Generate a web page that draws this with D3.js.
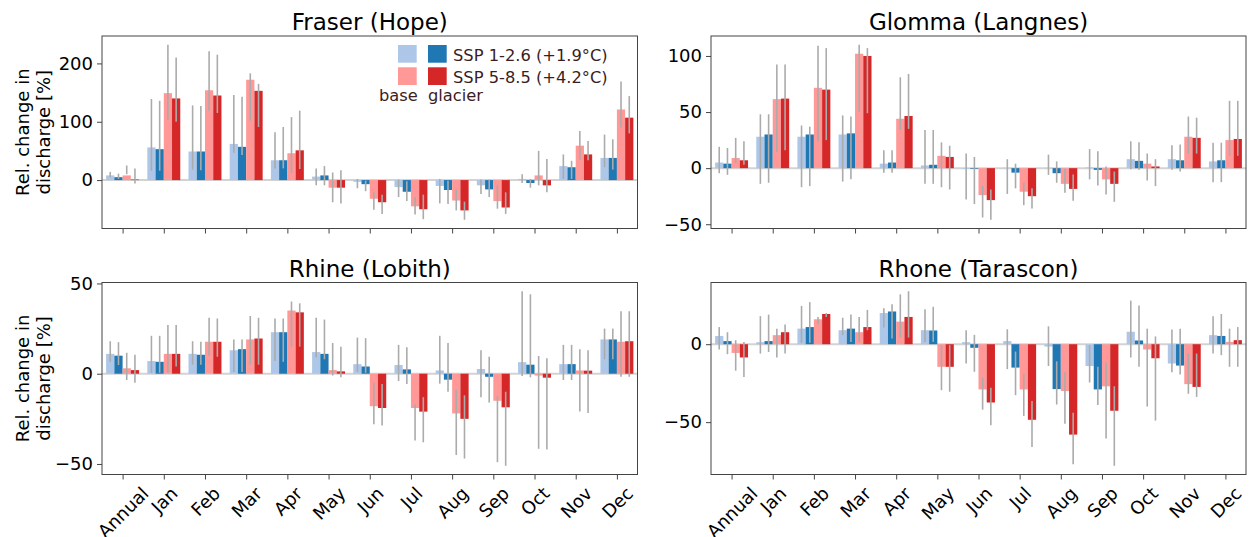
<!DOCTYPE html>
<html>
<head>
<meta charset="utf-8">
<script src="https://cdn.jsdelivr.net/npm/d3@7"></script>
<style>
  body { margin: 0; background: #fff; }
  text { font-family: "DejaVu Sans", sans-serif; }
</style>
</head>
<body>
<div id="chart"></div>
<script>
// categories and legend entries
var months = ["Annual", "Jan", "Feb", "Mar", "Apr", "May", "Jun", "Jul", "Aug", "Sep", "Oct", "Nov", "Dec"];
var scenarios = ["SSP 1-2.6 (+1.9°C)", "SSP 5-8.5 (+4.2°C)"];
var kinds = ["base", "glacier"];

// Fraser (Hope)
var fraserBase126 = [8, 56, 49, 62, 34, 6, -3, -12, -10, -9, 2, 24, 38];
var fraserGlac126 = [5, 53, 49, 57, 34, 8, -7, -20, -17, -16, -5, 22, 38];
var fraserBase585 = [8, 149, 154, 172, 46, -13, -32, -45, -35, -36, 8, 59, 121];
var fraserGlac585 = [1, 140, 145, 153, 51, -13, -38, -50, -52, -47, -9, 44, 107];
var fraserBase126Err = [[5,14],[16,139],[18,128],[47,146],[20,82],[-9,20],[-14,2],[-29,1],[-40,2],[-24,1],[-5,10],[2,44],[22,78]];
var fraserGlac126Err = [[2,11],[16,136],[17,127],[43,143],[20,91],[-9,24],[-19,-1],[-36,-2],[-41,-1],[-29,1],[-13,2],[2,33],[18,70]];
var fraserBase585Err = [[10,25],[103,232],[119,221],[102,183],[12,108],[-38,13],[-51,-21],[-59,-29],[-52,-16],[-49,-9],[-9,50],[35,84],[90,169]];
var fraserGlac585Err = [[-6,20],[100,210],[115,215],[91,165],[19,119],[-40,17],[-58,-25],[-67,-25],[-68,-37],[-58,-21],[-21,36],[34,67],[80,144]];

// Glomma (Langnes)
var glommaBase126 = [5, 28, 28, 30, 4, 2.4, -0.5, 0.3, 0.3, 0.6, 8, 8, 6];
var glommaGlac126 = [4, 30, 30, 31, 5, 3, -0.6, -4, -4.5, -1.5, 6.5, 7, 7];
var glommaBase585 = [9, 61.5, 71.6, 102, 44, 11, -24, -21, -14, -10, 4, 28, 25];
var glommaGlac585 = [7, 62, 70, 100, 46.5, 10, -28.5, -25, -18.5, -14, 1.5, 27, 26];
var glommaBase126Err = [[-4.5,19],[-14,48],[-17,38],[-12,47],[-4,16],[-14,34],[-28,13],[-23,8],[-6,12],[-10,17],[-1,24],[-1.5,20.5],[-12.5,22.7]];
var glommaGlac126Err = [[-6,18],[-13,48],[-16,37],[-10,46],[-4,16],[-14,34],[-32,10],[-18,4],[-13,6],[-15.5,15],[-1.5,23],[-3,21],[-12.5,22.7]];
var glommaBase585Err = [[4.5,27],[14.6,92.5],[24,109],[50,110],[34,81],[-17,23],[-44,-16],[-33,-13],[-22,-0.6],[-23.5,1.5],[-11,13],[13,46],[11,60]];
var glommaGlac585Err = [[3,24],[16,92.5],[25,107],[49,107],[35,84],[-19,20],[-46,-19],[-36,-18],[-29,-5.6],[-30,-3],[-16,8],[13,45],[11,60]];

// Rhine (Lobith)
var rhineBase126 = [11, 7, 11, 13, 23, 12, 5.3, 4.8, 1.8, 2.6, 6.4, 5.3, 19];
var rhineGlac126 = [10, 6.6, 10.5, 13.6, 23, 11, 4, 2.4, -3.3, -1.7, 5, 5.3, 19];
var rhineBase585 = [3, 11, 17.7, 19, 35, 2, -18, -19, -22, -15, -1, 1.8, 17.7];
var rhineGlac585 = [2, 11, 17.7, 19.5, 34, 1.3, -19, -21, -25, -18.6, -2.2, 1.7, 18];
var rhineBase126Err = [[6.6,18],[0.5,21],[5,18],[1,19],[7,30.6],[9,31],[1,20],[-4,16],[-5.5,21],[-13,13],[-1.3,45.7],[-3.5,16],[8,25]];
var rhineGlac126Err = [[4.8,17.5],[0.5,21],[5,17.7],[1,19],[6.6,30.6],[8,30],[0.5,19.7],[-5.7,14.7],[-10,17],[-16,9.4],[-2,44],[-3.5,16],[8,25]];
var rhineBase585Err = [[-3.5,11.6],[0.5,27],[10,31],[5,32],[15,40],[-1,17],[-28,-5],[-37,-17],[-45,-9],[-49,-12.5],[-41.6,9.8],[-21,13.6],[-1.7,34.6]];
var rhineGlac585Err = [[-5,10.5],[4,27],[9.4,30.6],[5,31],[15,39],[-2,15],[-28.7,-5.7],[-38,-13],[-47,-12],[-51,-10],[-42,8.5],[-21.7,13],[-1.7,34.6]];

// Rhone (Tarascon)
var rhoneBase126 = [5.3, 1.3, 10, 9, 20, 9, 1.3, 2, -1.5, -14, 8, -12.4, 5.8];
var rhoneGlac126 = [2, 2, 11, 10, 21, 8.8, -2.3, -15, -28.8, -29, 2.4, -13.7, 5.3];
var rhoneBase585 = [-5.6, 5.8, 16, 7.7, 14.5, -14.5, -29, -29, -30, -27, -3.4, -25.6, 1.5];
var rhoneGlac585 = [-8.5, 7.7, 19.4, 11, 17.5, -14.5, -37.4, -48.5, -58, -42.7, -9, -27.4, 2.6];
var rhoneBase126Err = [[-3.4,11],[-6,18],[0.9,24.6],[5.8,17],[10.7,23],[1.5,22.4],[-12.4,9],[-16,9.6],[-14,11.5],[-24.6,-0.6],[-8.5,28],[-18,9.4],[-6,18]];
var rhoneGlac126Err = [[-6.4,7.7],[-5,19],[0.9,27],[1.5,19],[3.6,25.6],[1.5,24],[-17.7,6],[-32.7,-4.7],[-38.7,-11],[-39,-14.5],[-14.5,24.8],[-19.4,10],[-7,19.4]];
var rhoneBase585Err = [[-17,2.6],[-8.5,10],[12.8,17.5],[1.5,17.5],[4.3,32],[-29.5,-0.6],[-42,-21.6],[-46,-19],[-51,-18],[-60.5,-11.8],[-40,10],[-31.8,-6],[-14.5,10]];
var rhoneGlac585Err = [[-21,1.5],[-6,12.6],[17.5,20],[9,22],[4.3,34],[-30.5,-0.6],[-52,-28],[-66,-36.5],[-77,-44],[-78,-27],[-49,5],[-33.8,-6],[-14.5,11]];

// y tick labels per panel
var fraserTicks = [0, 100, 200];
var glommaTicks = [-50, 0, 50, 100];
var rhineTicks = [-50, 0, 50];
var rhoneTicks = [-50, 0];

var colors = ["#aec7e8", "#1f77b4", "#ff9896", "#d62728"];
var offsets = [-0.3, -0.1, 0.1, 0.3];
var barWidth = 0.2;

var panels = [
    {title: "Fraser (Hope)", col: 0, row: 0, ticks: fraserTicks,
     vals: [fraserBase126, fraserGlac126, fraserBase585, fraserGlac585],
     errs: [fraserBase126Err, fraserGlac126Err, fraserBase585Err, fraserGlac585Err]},
    {title: "Glomma (Langnes)", col: 1, row: 0, ticks: glommaTicks,
     vals: [glommaBase126, glommaGlac126, glommaBase585, glommaGlac585],
     errs: [glommaBase126Err, glommaGlac126Err, glommaBase585Err, glommaGlac585Err]},
    {title: "Rhine (Lobith)", col: 0, row: 1, ticks: rhineTicks,
     vals: [rhineBase126, rhineGlac126, rhineBase585, rhineGlac585],
     errs: [rhineBase126Err, rhineGlac126Err, rhineBase585Err, rhineGlac585Err]},
    {title: "Rhone (Tarascon)", col: 1, row: 1, ticks: rhoneTicks,
     vals: [rhoneBase126, rhoneGlac126, rhoneBase585, rhoneGlac585],
     errs: [rhoneBase126Err, rhoneGlac126Err, rhoneBase585Err, rhoneGlac585Err]}
];

// axes boxes in pixels
var colX = [[102, 637.5], [711, 1246]];
var rowY = [[36, 228.5], [282.5, 474.5]];

var svg = d3.select("#chart")
    .append("svg")
    .attr("width", 1255)
    .attr("height", 537);

panels.forEach(function (p) {
    var x0 = colX[p.col][0], x1 = colX[p.col][1];
    var y0 = rowY[p.row][0], y1 = rowY[p.row][1];

    var x = d3.scaleLinear().domain([-0.5, 12.5]).range([x0, x1]);

    // auto limits like matplotlib: data extent + 5% margin
    var lo = d3.min(p.errs, function (e) { return d3.min(e, function (d) { return d[0]; }); });
    var hi = d3.max(p.errs, function (e) { return d3.max(e, function (d) { return d[1]; }); });
    var pad = (hi - lo) * 0.05;
    var y = d3.scaleLinear().domain([lo - pad, hi + pad]).range([y1, y0]);

    var g = svg.append("g");

    // zero line
    g.append("line")
        .attr("x1", x0).attr("x2", x1)
        .attr("y1", y(0)).attr("y2", y(0))
        .attr("stroke", "#d3d3d3")
        .attr("stroke-width", 2);

    // bars
    p.vals.forEach(function (arr, s) {
        g.selectAll(null)
            .data(arr)
            .enter()
            .append("rect")
            .attr("x", function (d, i) { return x(i + offsets[s] - barWidth / 2); })
            .attr("width", x(barWidth) - x(0))
            .attr("y", function (d) { return y(Math.max(d, 0)); })
            .attr("height", function (d) { return Math.abs(y(d) - y(0)); })
            .attr("fill", colors[s]);
    });

    // error bars
    p.errs.forEach(function (arr, s) {
        g.selectAll(null)
            .data(arr)
            .enter()
            .append("line")
            .attr("x1", function (d, i) { return x(i + offsets[s]); })
            .attr("x2", function (d, i) { return x(i + offsets[s]); })
            .attr("y1", function (d) { return y(d[0]); })
            .attr("y2", function (d) { return y(d[1]); })
            .attr("stroke", "#ababab")
            .attr("stroke-width", 1.6);
    });

    // frame
    g.append("rect")
        .attr("x", x0).attr("y", y0)
        .attr("width", x1 - x0).attr("height", y1 - y0)
        .attr("fill", "none")
        .attr("stroke", "#444")
        .attr("stroke-width", 1);

    // y axis
    var ya = g.append("g")
        .attr("transform", "translate(" + x0 + ",0)")
        .call(d3.axisLeft(y).tickValues(p.ticks).tickSize(5).tickPadding(4));
    ya.select(".domain").remove();
    ya.attr("font-size", 18).attr("font-family", "DejaVu Sans").attr("color", "#444");
    ya.selectAll("text").attr("fill", "#000");

    // x axis
    var xa = g.append("g")
        .attr("transform", "translate(0," + y1 + ")")
        .call(d3.axisBottom(x).tickValues(d3.range(months.length)).tickSize(5)
            .tickFormat(function (i) { return p.row === 1 ? months[i] : ""; }));
    xa.select(".domain").remove();
    xa.attr("font-size", 18).attr("font-family", "DejaVu Sans").attr("color", "#444");
    xa.selectAll("text")
        .attr("fill", "#000")
        .attr("y", null)
        .attr("dy", null)
        .attr("text-anchor", "middle")
        .attr("dominant-baseline", "central")
        .attr("transform", function () {
            var w = this.getComputedTextLength();
            var cy = 8.5 + (w + 20) / (2 * Math.SQRT2);
            return "translate(0," + cy + ") rotate(-45)";
        });

    // title
    svg.append("text")
        .attr("x", (x0 + x1) / 2)
        .attr("y", y0 - 6)
        .attr("text-anchor", "middle")
        .attr("font-size", 23)
        .attr("fill", "#000")
        .text(p.title);

    // y label
    if (p.col === 0) {
        var cy = (y0 + y1) / 2;
        [["Rel. change in", 28.5], ["discharge [%]", 50]].forEach(function (l) {
            svg.append("text")
                .attr("transform", "translate(" + l[1] + "," + cy + ") rotate(-90)")
                .attr("text-anchor", "middle")
                .attr("font-size", 18)
                .attr("fill", "#000")
                .text(l[0]);
        });
    }
});

// legend in the Fraser panel
var legendColor = "#3b1d22";
var leg = svg.append("g");
scenarios.forEach(function (name, r) {
    var ry = 45 + r * 22.3;
    [0, 1].forEach(function (k) {
        leg.append("rect")
            .attr("x", 398 + k * 30)
            .attr("y", ry)
            .attr("width", 18.7)
            .attr("height", 17.7)
            .attr("fill", colors[r * 2 + k]);
    });
    leg.append("text")
        .attr("x", 453)
        .attr("y", ry + 16)
        .attr("font-size", 16.3)
        .attr("fill", legendColor)
        .text(name);
});
kinds.forEach(function (k, i) {
    leg.append("text")
        .attr("x", i === 0 ? 379 : 428)
        .attr("y", 101)
        .attr("font-size", 16.3)
        .attr("fill", legendColor)
        .text(k);
});
</script>
</body>
</html>
